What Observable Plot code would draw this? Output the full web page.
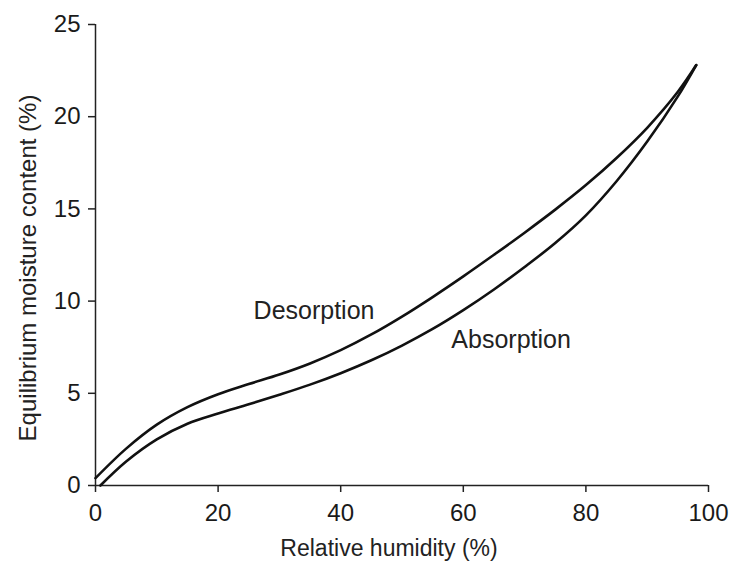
<!DOCTYPE html>
<html>
<head>
<meta charset="utf-8">
<script src="https://cdn.jsdelivr.net/npm/d3@7"></script>
<script src="https://cdn.jsdelivr.net/npm/@observablehq/plot@0.6"></script>
<style>
  html, body { margin: 0; padding: 0; background: #fff; }
  svg { font-family: "Liberation Sans", Arial, Helvetica, sans-serif; }
</style>
</head>
<body>
<div id="chart"></div>
<script>
// Relative humidity (%) sample points and equilibrium moisture content (%)
const desorptionRH = [0, 5, 10, 15, 20, 25, 30, 35, 40, 45, 50, 55, 60, 65, 70, 75, 80, 85, 90, 95, 98];
const desorptionEMC = [0.4, 2.0, 3.3, 4.25, 4.95, 5.5, 6.02, 6.62, 7.34, 8.19, 9.16, 10.22, 11.34, 12.51, 13.71, 14.96, 16.29, 17.76, 19.4, 21.35, 22.8];
const absorptionRH = [0.8, 5, 10, 15, 20, 25, 30, 35, 40, 45, 50, 55, 60, 65, 70, 75, 80, 85, 90, 95, 98];
const absorptionEMC = [0, 1.3, 2.5, 3.35, 3.9, 4.4, 4.92, 5.47, 6.09, 6.79, 7.59, 8.49, 9.51, 10.63, 11.85, 13.15, 14.65, 16.5, 18.65, 21.1, 22.8];

const xTicks = [0, 20, 40, 60, 80, 100];
const yTicks = [0, 5, 10, 15, 20, 25];

const labelNames = ["Desorption", "Absorption"];
const labelRH = [35.65, 67.8];
const labelEMC = [9.44, 7.89];

const xTitle = "Relative humidity (%)";
const yTitle = "Equilibrium moisture content (%)";

const series = [
  ...desorptionRH.map((x, i) => ({series: "Desorption", rh: x, emc: desorptionEMC[i]})),
  ...absorptionRH.map((x, i) => ({series: "Absorption", rh: x, emc: absorptionEMC[i]}))
];
const labels = labelNames.map((n, i) => ({name: n, rh: labelRH[i], emc: labelEMC[i]}));

const fs = 24;

const chart = Plot.plot({
  width: 730,
  height: 563,
  marginLeft: 95,
  marginRight: 22,
  marginTop: 24,
  marginBottom: 78,
  style: {fontFamily: '"Liberation Sans", Arial, sans-serif', fontSize: fs + "px", color: "#1a1a1a", background: "#fff"},
  x: {domain: [0, 100]},
  y: {domain: [0, 25]},
  marks: [
    Plot.axisX({ticks: xTicks, tickSize: 7, tickPadding: 11, label: null, fontSize: fs, stroke: "#222", strokeWidth: 1.5}),
    Plot.axisY({ticks: yTicks, tickSize: 7, tickPadding: 8, label: null, fontSize: fs, stroke: "#222", strokeWidth: 1.5}),
    Plot.ruleX([0], {stroke: "#222", strokeWidth: 1.5}),
    Plot.ruleY([0], {stroke: "#222", strokeWidth: 1.5}),
    Plot.line(series, {x: "rh", y: "emc", z: "series", curve: "catmull-rom", stroke: "#111", strokeWidth: 2.6}),
    Plot.text(labels, {x: "rh", y: "emc", text: "name", fontSize: 25, fill: "#222"}),
    Plot.text([xTitle], {frameAnchor: "bottom", dx: -13, dy: 63, lineAnchor: "middle", fontSize: 23, fill: "#222"}),
    Plot.text([yTitle], {frameAnchor: "left", dx: -67, dy: 13, rotate: -90, textAnchor: "middle", lineAnchor: "middle", fontSize: fs, fill: "#222"})
  ]
});
document.getElementById("chart").appendChild(chart);
</script>
</body>
</html>
